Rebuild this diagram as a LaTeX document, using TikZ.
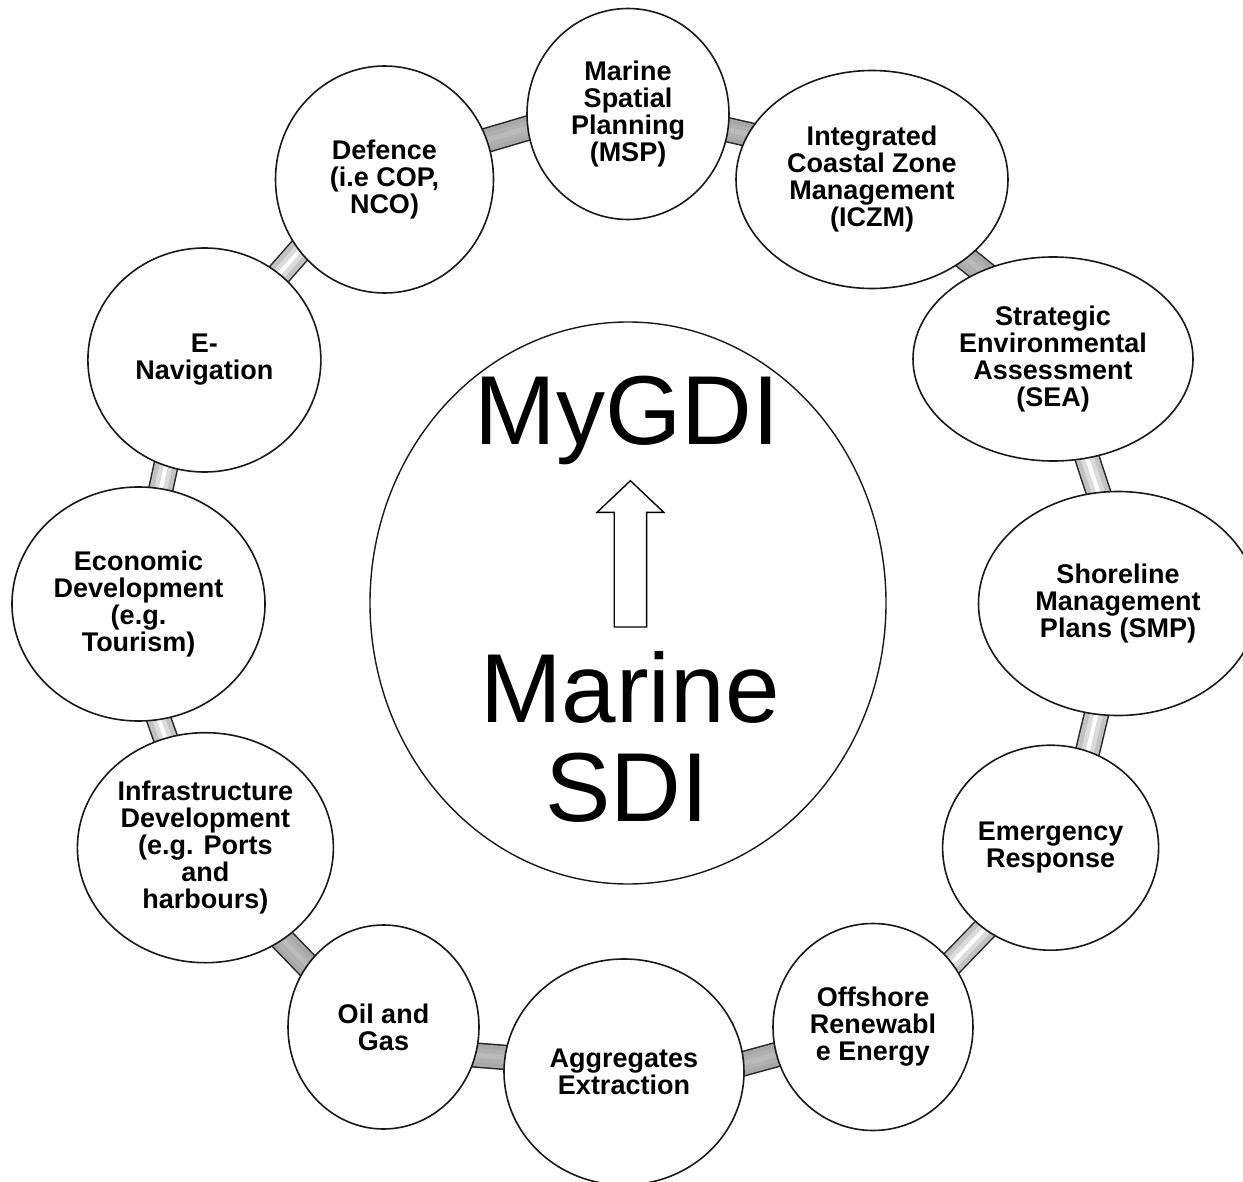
\documentclass[tikz,border=0pt]{standalone}
\usepackage{fontspec}
\setmainfont{Liberation Sans}
\usetikzlibrary{shapes.geometric,calc}
\pgfdeclarelayer{background}
\pgfsetlayers{background,main}
\definecolor{barA}{gray}{0.66}
\definecolor{barB}{gray}{0.69}
\definecolor{barC}{gray}{0.73}
\definecolor{barS}{gray}{0.76}
\definecolor{barT}{gray}{0.86}
\begin{document}
\begin{tikzpicture}[x=1pt,y=1pt,
  topic/.style={ellipse, draw=black!90, line width=1.6pt, fill=white,
    inner sep=0pt, outer sep=0pt, align=center,
    font=\fontsize{27}{27}\selectfont\bfseries},
  core/.style={ellipse, draw=black!90, line width=1.4pt, fill=white,
    inner sep=0pt, outer sep=0pt},
  bigtext/.style={inner sep=0pt, anchor=base,
    font=\fontsize{98}{99}\selectfont},
  flatbar/.style={draw=barA, line width=22.5pt,
    preaction={draw=black!85, line width=25.5pt},
    postaction={draw=barB, line width=14pt},
    postaction={draw=barC, line width=5pt}},
  shinybar/.style={draw=barS, line width=22.5pt,
    preaction={draw=black!85, line width=25.5pt},
    postaction={draw=barT, line width=13pt},
    postaction={draw=white, line width=4pt}}]
\useasboundingbox (0,0) rectangle (1243,-1182);

% central circle and its texts
\node[core, minimum width=516pt, minimum height=562pt] (core) at (628,-603) {};
\node[bigtext] (mygdi) at (627,-444) {MyGDI};
\node[bigtext] (marine) at (630,-722.3) {Marine};
\node[bigtext] (sdi) at (627,-821.7) {SDI};
\draw[line width=1.4pt, draw=black, fill=white]
  (630.4,-480.7) -- (663.7,-512.3) -- (646.6,-512.3) -- (646.6,-627)
  -- (614.2,-627) -- (614.2,-512.3) -- (597.1,-512.3) -- cycle;

% ring of topics
\node[topic, minimum width=202pt, minimum height=211pt] (msp) at (628,-114) {Marine\\Spatial\\Planning\\(MSP)};
\node[topic, minimum width=272pt, minimum height=218pt] (icz) at (872,-179.5) {Integrated\\Coastal Zone\\Management\\(ICZM)};
\node[topic, minimum width=280pt, minimum height=204pt] (sea) at (1053,-359) {Strategic\\Environmental\\Assessment\\(SEA)};
\node[topic, minimum width=279pt, minimum height=224pt] (smp) at (1118,-603.5) {Shoreline\\Management\\Plans (SMP)};
\node[topic, minimum width=216pt, minimum height=205pt] (eme) at (1050.6,-847.7) {Emergency\\Response};
\node[topic, minimum width=200pt, minimum height=207pt] (off) at (873,-1027) {Offshore\\Renewabl\\e Energy};
\node[topic, minimum width=240pt, minimum height=226pt] (agg) at (624,-1072) {Aggregates\\Extraction};
\node[topic, minimum width=191pt, minimum height=204pt] (oil) at (383.5,-1027) {Oil and\\Gas};
\node[topic, minimum width=256pt, minimum height=230pt] (inf) at (205.4,-847.7) {Infrastructure\\Development\\(e.g. Ports\\and\\harbours)};
\node[topic, minimum width=253pt, minimum height=234pt] (eco) at (138.5,-604) {Economic\\Development\\(e.g.\\Tourism)};
\node[topic, minimum width=233pt, minimum height=224pt] (nav) at (204.4,-360) {E-\\Navigation};
\node[topic, minimum width=218pt, minimum height=227pt] (def) at (384.5,-179.5) {Defence\\(i.e COP,\\NCO)};

% connecting bars, behind the circles
\begin{pgfonlayer}{background}
\fill[white] (0,0) rectangle (1243,-1182);
\draw[flatbar]  ($(def.21.3)!-12pt!(msp.188.9)$) -- ($(msp.188.9)!-12pt!(def.21.3)$);
\draw[flatbar]  ($(msp.351)!-12pt!(icz.160.1)$) -- ($(icz.160.1)!-12pt!(msp.351)$);
\draw[flatbar]  ($(icz.320.1)!-12pt!(sea.129.5)$) -- ($(sea.129.5)!-12pt!(icz.320.1)$);
\draw[shinybar] ($(sea.289.5)!-12pt!(smp.100.85)$) -- ($(smp.100.85)!-12pt!(sea.289.5)$);
\draw[shinybar] ($(smp.259.2)!-12pt!(eme.69.3)$) -- ($(eme.69.3)!-12pt!(smp.259.2)$);
\draw[shinybar] ($(eme.231.2)!-12pt!(off.39.4)$) -- ($(off.39.4)!-12pt!(eme.231.2)$);
\draw[flatbar]  ($(off.196.1)!-12pt!(agg.4.7)$) -- ($(agg.4.7)!-12pt!(off.196.1)$);
\draw[flatbar]  ($(agg.173.4)!-12pt!(oil.343.4)$) -- ($(oil.343.4)!-12pt!(agg.173.4)$);
\draw[flatbar]  ($(oil.141)!-12pt!(inf.310.3)$) -- ($(inf.310.3)!-12pt!(oil.141)$);
\draw[shinybar] ($(inf.110.3)!-12pt!(eco.280.5)$) -- ($(eco.280.5)!-12pt!(inf.110.3)$);
\draw[shinybar] ($(eco.79.5)!-12pt!(nav.250.1)$) -- ($(nav.250.1)!-12pt!(eco.79.5)$);
\draw[shinybar] ($(nav.49.8)!-12pt!(def.220.1)$) -- ($(def.220.1)!-12pt!(nav.49.8)$);
\end{pgfonlayer}
\end{tikzpicture}
\end{document}
